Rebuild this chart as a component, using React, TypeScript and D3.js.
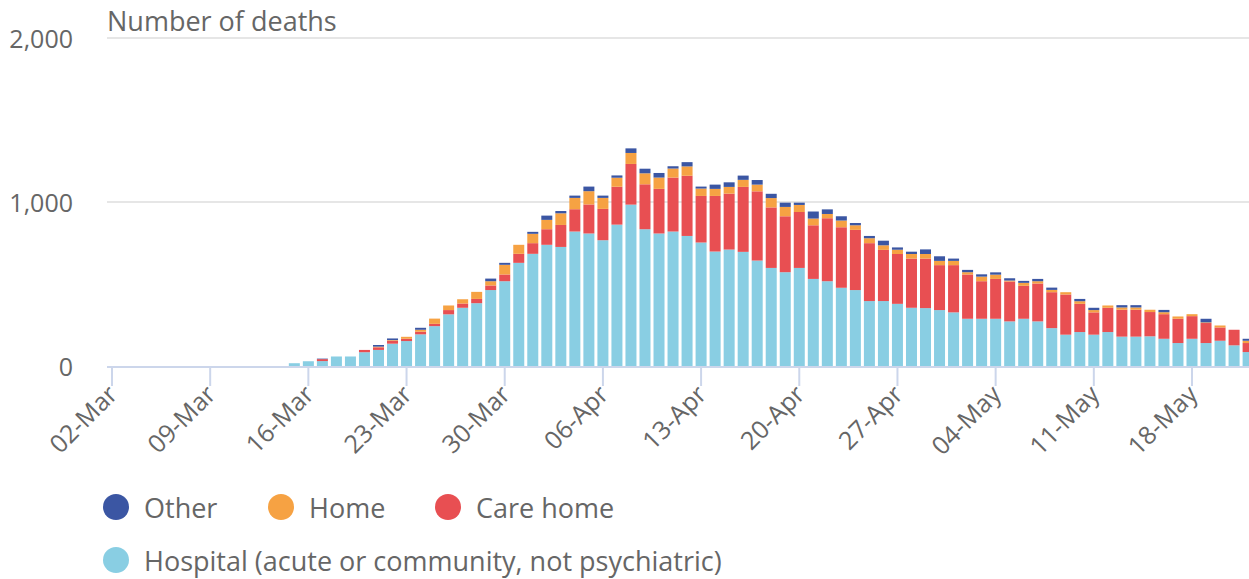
import * as d3 from 'd3'

// Daily deaths by place of death, 02-Mar to 22-May
const startDate = Date.UTC(2020, 2, 2)
const dayCount = 82

const hospital = [
  0, 0, 0, 0, 0, 0, 0, 0, 0, 0, 0, 0, 0, 17, 29, 30, 58, 58, 84, 98,
  136, 152, 193, 243, 315, 355, 383, 463, 517, 629, 684, 739, 726, 820, 808, 767, 862, 984, 834, 808,
  820, 793, 753, 698, 710, 696, 643, 598, 572, 598, 531, 517, 477, 463, 396, 396, 379, 355, 353, 341,
  327, 288, 288, 288, 272, 288, 272, 231, 191, 207, 191, 207, 179, 179, 181, 166, 140, 166, 140, 154,
  126, 85,
]
const careHome = [
  0, 0, 0, 0, 0, 0, 0, 0, 0, 0, 0, 0, 0, 0, 0, 12, 0, 0, 14, 16,
  18, 14, 16, 14, 26, 26, 26, 28, 41, 55, 65, 95, 134, 136, 177, 191, 231, 248, 274, 272,
  329, 367, 284, 339, 341, 396, 422, 369, 341, 341, 327, 384, 369, 367, 353, 312, 304, 300, 302, 274,
  288, 270, 229, 243, 243, 201, 231, 219, 245, 172, 136, 148, 164, 164, 148, 150, 148, 138, 122, 81,
  95, 55,
]
const home = [
  0, 0, 0, 0, 0, 0, 0, 0, 0, 0, 0, 0, 0, 0, 0, 0, 0, 0, 0, 4,
  4, 12, 12, 32, 28, 26, 43, 26, 59, 55, 57, 57, 71, 69, 81, 67, 55, 67, 67, 69,
  55, 57, 45, 43, 41, 43, 41, 57, 57, 43, 41, 26, 41, 28, 30, 28, 26, 28, 28, 26,
  26, 14, 28, 26, 6, 18, 14, 14, 14, 16, 14, 14, 14, 14, 14, 12, 14, 12, 4, 12,
  0, 14,
]
const other = [
  0, 0, 0, 0, 0, 0, 0, 0, 0, 0, 0, 0, 0, 0, 0, 3, 0, 0, 0, 10,
  10, 0, 12, 0, 0, 0, 0, 16, 12, 0, 12, 26, 14, 14, 28, 14, 14, 28, 28, 28,
  14, 26, 12, 26, 28, 26, 28, 26, 26, 14, 43, 28, 26, 14, 14, 28, 14, 14, 28, 28,
  14, 14, 14, 14, 14, 12, 14, 14, 0, 14, 14, 0, 14, 14, 0, 14, 0, 0, 22, 0,
  0, 12,
]

const seriesKeys = ['hospital', 'careHome', 'home', 'other']
const seriesColors: Record<string, string> = {
  hospital: '#89cee3',
  careHome: '#e84f52',
  home: '#f6a243',
  other: '#3b56a3',
}

const yTicks = [0, 1000, 2000]
const legendRows = [
  [
    { label: 'Other', color: seriesColors.other },
    { label: 'Home', color: seriesColors.home },
    { label: 'Care home', color: seriesColors.careHome },
  ],
  [{ label: 'Hospital (acute or community, not psychiatric)', color: seriesColors.hospital }],
]

const width = 1249
const height = 579
const margin = { left: 107, top: 38, bottom: 366 }
const font = '"Open Sans", sans-serif'
const textColor = '#666666'

const rows = d3.range(dayCount).map(i => ({
  date: new Date(startDate + i * 864e5),
  hospital: hospital[i],
  careHome: careHome[i],
  home: home[i],
  other: other[i],
}))

const App = () => {
  const xScale = d3
    .scaleUtc()
    .domain([new Date(startDate), new Date(Date.UTC(2020, 4, 18))])
    .range([112, 1192])

  const yScale = d3.scaleLinear().domain([0, 2000]).range([margin.bottom, margin.top])

  const stacked = d3.stack<any>().keys(seriesKeys)(rows)
  const barWidth = 11

  const mondays = d3.utcMonday.range(new Date(startDate), new Date(Date.UTC(2020, 4, 24)))
  const fmt = d3.utcFormat('%d-%b')

  return (
    <svg
      width={width}
      height={height}
      style={{ position: 'absolute', left: 0, top: 0, background: '#fff' }}
      fontFamily={font}
    >
      <text x={107} y={31} fontSize={27} fill={textColor}>
        Number of deaths
      </text>

      {yTicks.map(t => (
        <g key={t}>
          {t > 0 && (
            <line
              x1={margin.left}
              x2={width}
              y1={yScale(t)}
              y2={yScale(t)}
              stroke="#e6e6e6"
              strokeWidth={2}
            />
          )}
          <text
            x={73}
            y={yScale(t) + 10}
            textAnchor="end"
            fontSize={25}
            fill={textColor}
          >
            {d3.format(',')(t)}
          </text>
        </g>
      ))}

      {stacked.map(layer => (
        <g key={layer.key} fill={seriesColors[layer.key]}>
          {layer.map((seg, i) =>
            seg[1] - seg[0] > 0 ? (
              <rect
                key={i}
                x={xScale(rows[i].date) - barWidth / 2}
                y={yScale(seg[1])}
                width={barWidth}
                height={yScale(seg[0]) - yScale(seg[1])}
              />
            ) : null
          )}
        </g>
      ))}

      <line
        x1={margin.left}
        x2={width}
        y1={margin.bottom + 1}
        y2={margin.bottom + 1}
        stroke="#ccd6eb"
        strokeWidth={2}
      />
      {mondays.map(d => (
        <g key={+d} transform={`translate(${xScale(d)}, ${margin.bottom})`}>
          <line y1={1} y2={20} stroke="#ccd6eb" strokeWidth={2} />
          <text
            transform="translate(7, 30) rotate(-45)"
            textAnchor="end"
            fontSize={25}
            fill={textColor}
          >
            {fmt(d)}
          </text>
        </g>
      ))}

      {legendRows.map((row, r) => {
        let x = 116
        return row.map(item => {
          const g = (
            <g key={item.label} transform={`translate(${x}, ${507 + r * 53})`}>
              <circle r={13} fill={item.color} />
              <text x={28} y={11} fontSize={27} fill={textColor}>
                {item.label}
              </text>
            </g>
          )
          x += item.label === 'Other' ? 165 : 167
          return g
        })
      })}
    </svg>
  )
}

export default App
